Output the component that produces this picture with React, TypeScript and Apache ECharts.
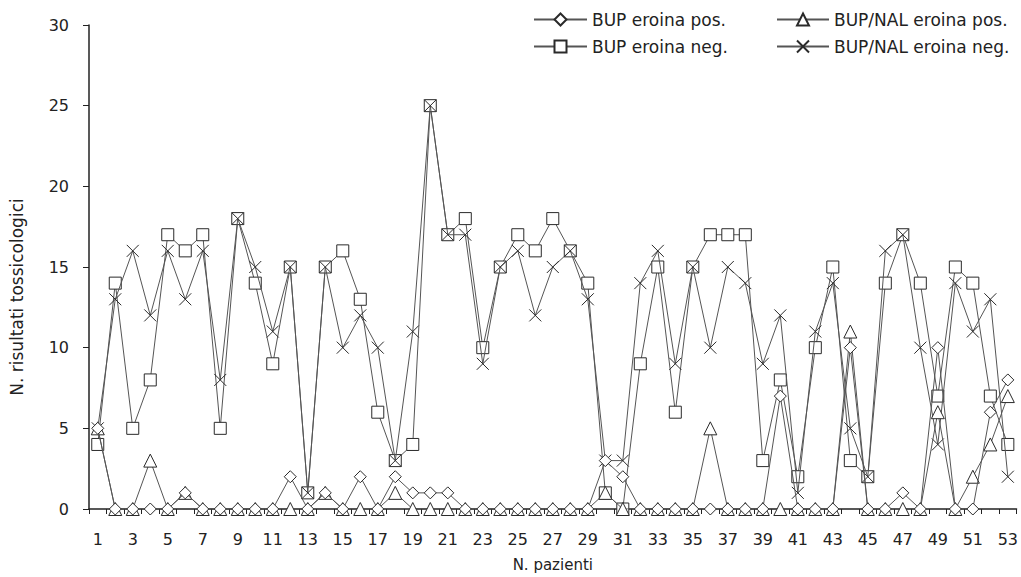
import React, { useEffect, useRef } from "react";
import * as echarts from "echarts";

const categories: string[] = Array.from({ length: 53 }, (_, i) => String(i + 1));

const bupPos: number[] = [
  5, 0, 0, 0, 0, 1, 0, 0, 0, 0, 0, 2, 0, 1, 0, 2, 0, 2, 1, 1, 1, 0, 0, 0, 0, 0, 0,
  0, 0, 3, 2, 0, 0, 0, 0, 0, 0, 0, 0, 7, 0, 0, 0, 10, 0, 0, 1, 0, 10, 0, 0, 6, 8,
];
const bupNeg: number[] = [
  4, 14, 5, 8, 17, 16, 17, 5, 18, 14, 9, 15, 1, 15, 16, 13, 6, 3, 4, 25, 17, 18, 10, 15, 17, 16, 18,
  16, 14, 1, 0, 9, 15, 6, 15, 17, 17, 17, 3, 8, 2, 10, 15, 3, 2, 14, 17, 14, 7, 15, 14, 7, 4,
];
const nalPos: number[] = [
  5, 0, 0, 3, 0, 1, 0, 0, 0, 0, 0, 0, 0, 1, 0, 0, 0, 1, 0, 0, 0, 0, 0, 0, 0, 0, 0,
  0, 0, 1, 0, 0, 0, 0, 0, 5, 0, 0, 0, 0, 0, 0, 0, 11, 0, 0, 0, 0, 6, 0, 2, 4, 7,
];
const nalNeg: number[] = [
  5, 13, 16, 12, 16, 13, 16, 8, 18, 15, 11, 15, 1, 15, 10, 12, 10, 3, 11, 25, 17, 17, 9, 15, 16, 12, 15,
  16, 13, 3, 3, 14, 16, 9, 15, 10, 15, 14, 9, 12, 1, 11, 14, 5, 2, 16, 17, 10, 4, 14, 11, 13, 2,
];

const yTicks = { min: 0, max: 30, interval: 5 };

const FONT = "DejaVu Sans";
const LINE = "#555";
const MARK = "#2a2a2a";
const CROSS = "path://M0,0L10,10M10,0L0,10";

export default function App() {
  const ref = useRef<HTMLDivElement>(null);
  useEffect(() => {
    if (!ref.current) return;
    const chart = echarts.init(ref.current, null, { renderer: "svg" });
    const mk = (name: string, data: number[], symbol: string, size: number, z: number) => ({
      name,
      type: "line",
      data,
      symbol,
      symbolSize: size,
      showAllSymbol: true,
      z,
      lineStyle: { color: LINE, width: 1 },
      itemStyle: { color: "#ffffff", borderColor: MARK, borderWidth: 1 },
      emphasis: { disabled: true },
    });
    const legendBase = {
      orient: "vertical",
      top: 11,
      itemHeight: 15,
      itemGap: 10,
      padding: 0,
      textStyle: { fontFamily: FONT, fontSize: 17, color: "#222" },
    };
    chart.setOption({
      animation: false,
      backgroundColor: "#ffffff",
      textStyle: { fontFamily: FONT, color: "#222" },
      grid: { left: 88, right: 4, top: 25, bottom: 68, containLabel: false },
      legend: [
        {
          ...legendBase,
          data: ["BUP eroina pos.", "BUP eroina neg."],
          left: 533,
          itemWidth: 53,
        },
        {
          ...legendBase,
          data: ["BUP/NAL eroina pos.", "BUP/NAL eroina neg."],
          left: 776,
          itemWidth: 52,
        },
      ],
      xAxis: {
        type: "category",
        data: categories,
        boundaryGap: true,
        name: "N. pazienti",
        nameLocation: "middle",
        nameGap: 48,
        nameTextStyle: { fontFamily: FONT, fontSize: 15, color: "#222" },
        axisLine: { lineStyle: { color: "#222", width: 1.5 } },
        axisTick: { show: true, interval: 0, length: 5, inside: false, lineStyle: { color: "#222" } },
        axisLabel: { interval: 1, margin: 22, fontFamily: FONT, fontSize: 16, color: "#222" },
        splitLine: { show: false },
      },
      yAxis: {
        type: "value",
        min: yTicks.min,
        max: yTicks.max,
        interval: yTicks.interval,
        name: "N. risultati tossicologici",
        nameLocation: "middle",
        nameGap: 64,
        nameTextStyle: { fontFamily: FONT, fontSize: 17, color: "#222", padding: [0, 60, 0, 0] },
        axisLine: { show: true, lineStyle: { color: "#222", width: 1.5 } },
        axisTick: { show: true, length: 6, lineStyle: { color: "#222" } },
        axisLabel: { margin: 20, fontFamily: FONT, fontSize: 16, color: "#222" },
        splitLine: { show: false },
      },
      series: [
        mk("BUP eroina neg.", bupNeg, "rect", 12, 2),
        mk("BUP/NAL eroina neg.", nalNeg, CROSS, 12, 3),
        mk("BUP/NAL eroina pos.", nalPos, "triangle", 13, 4),
        mk("BUP eroina pos.", bupPos, "diamond", 12, 5),
      ],
    });
    return () => chart.dispose();
  }, []);
  return (
    <div
      ref={ref}
      style={{ position: "fixed", left: 0, top: 0, width: 1021, height: 577, background: "#fff" }}
    />
  );
}
